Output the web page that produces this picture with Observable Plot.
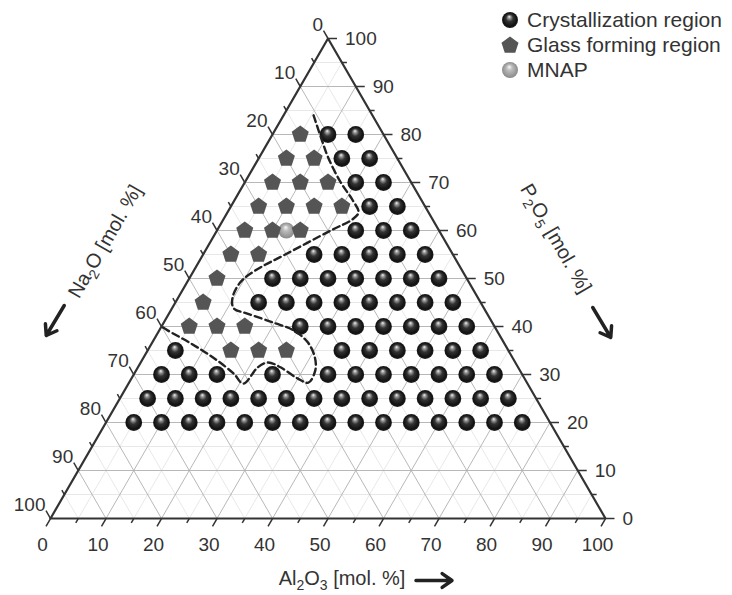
<!DOCTYPE html>
<html><head><meta charset="utf-8">
<script src="https://cdn.jsdelivr.net/npm/d3@7"></script>
<script src="https://cdn.jsdelivr.net/npm/@observablehq/plot@0.6"></script>
<style>
html,body{margin:0;padding:0;background:#fff;overflow:hidden;}
#wrap{position:relative;width:732px;height:595px;overflow:hidden;}
#legend{position:absolute;left:501px;top:7px;font-family:"Liberation Sans",Arial,sans-serif;font-size:21px;color:#333;white-space:nowrap;}
.item{display:flex;align-items:center;height:25px;}
.item svg{margin-right:8px;flex:none;}
</style></head><body>
<div id="wrap"><div id="chart"></div><div id="legend"></div></div>
<script>
// ---- data: [Al2O3, P2O5] in mol.% (Na2O = 100 - Al2O3 - P2O5)
const tickValues = [0, 10, 20, 30, 40, 50, 60, 70, 80, 90, 100];
const crystallization = [
  [10,80],[15,80],
  [15,75],[20,75],
  [20,70],[25,70],
  [25,65],[30,65],
  [25,60],[30,60],[35,60],
  [20,55],[25,55],[30,55],[35,55],[40,55],
  [15,50],[20,50],[25,50],[30,50],[35,50],[40,50],[45,50],
  [15,45],[20,45],[25,45],[30,45],[35,45],[40,45],[45,45],[50,45],
  [25,40],[30,40],[35,40],[40,40],[45,40],[50,40],[55,40],
  [5,35],[35,35],[40,35],[45,35],[50,35],[55,35],[60,35],
  [5,30],[10,30],[15,30],[25,30],[35,30],[40,30],[45,30],[50,30],[55,30],[60,30],[65,30],
  [5,25],[10,25],[15,25],[20,25],[25,25],[30,25],[35,25],[40,25],[45,25],[50,25],[55,25],[60,25],[65,25],[70,25],
  [5,20],[10,20],[15,20],[20,20],[25,20],[30,20],[35,20],[40,20],[45,20],[50,20],[55,20],[60,20],[65,20],[70,20],[75,20]
];
const glassForming = [
  [5,80],
  [5,75],[10,75],
  [5,70],[10,70],[15,70],
  [5,65],[10,65],[15,65],[20,65],
  [5,60],[10,60],[15,60],
  [5,55],[10,55],
  [5,50],
  [5,45],
  [5,40],[10,40],[15,40],
  [15,35],[20,35],[25,35]
];
const mnap = [[12.5,60]];
const boundary = [
  [5.4,84],[9.5,78.8],[12.6,75],[17.3,70],[21.3,66.3],[23.6,63.8],[23.3,62.4],[20.5,60],
  [14.8,55],[11.1,51.7],[9.6,49.2],[9.8,46.0],[11.1,43.8],[14.1,42.7],[19.8,40.8],[24.2,39.2],
  [28.0,36.7],[30.9,33.5],[32.3,30.8],[32.3,28.3],[29.9,29.2],[25.7,31.5],[22.9,32.5],[21.6,31.5],
  [20.7,28.1],[17.9,30.2],[12.6,33.5],[7.0,36.5],[1.5,39.2],[0,40]
];
const legendLabels = ["Crystallization region", "Glass forming region", "MNAP"];
const leftTitle = "Na2O [mol. %]";
const rightTitle = "P2O5 [mol. %]";
const bottomTitle = "Al2O3 [mol. %]";

// ---- geometry
const X0 = 50, X1 = 605, YT = 38, YB = 518;
const pxX = (X1 - X0) / 100, pxY = (YB - YT) / 100;
const tx = d => d[0] + d[1] / 2;
const ty = d => d[1];

const gridMajor = [], gridMinor = [];
for (const k of d3.range(5, 100, 5)) {
  const segs = [[[0, k], [100 - k, k]], [[k, 0], [k, 100 - k]], [[100 - k, 0], [0, 100 - k]]];
  for (const [a, b] of segs) (k % 10 === 0 ? gridMajor : gridMinor).push({x1: tx(a), y1: a[1], x2: tx(b), y2: b[1]});
}
const tickSegs = [];
for (const v of d3.range(0, 101, 5)) {
  const L = v % 10 === 0 ? 9 : 5;
  let a = [100 - v, v];
  tickSegs.push({x1: tx(a), y1: v, x2: tx(a) + L / pxX, y2: v});
  tickSegs.push({x1: v, y1: 0, x2: v - 0.5 * L / pxX, y2: -0.866 * L / pxY});
  a = [0, 100 - v];
  tickSegs.push({x1: tx(a), y1: a[1], x2: tx(a) - 0.5 * L / pxX, y2: a[1] + 0.866 * L / pxY});
}
const outline = [[0, 0], [100, 0], [0, 100], [0, 0]];

// axis-title arrows: pixel offsets from the middle of each edge
function arrowFrom(mid, sx, sy, ex, ey) {
  const mx = tx(mid), my = ty(mid);
  return {x1: mx + sx / pxX, y1: my - sy / pxY, x2: mx + ex / pxX, y2: my - ey / pxY};
}
const titleArrows = [
  arrowFrom([0, 50], -125, 27, -143, 57),
  arrowFrom([50, 50], 126, 29, 144, 59),
  arrowFrom([50, 0], 88, 62, 124, 62)
];

const pentagon = {
  draw(context, size) {
    const r = Math.sqrt(size / Math.PI) * 1.12;
    for (let i = 0; i < 5; i++) {
      const ang = -Math.PI / 2 + i * 2 * Math.PI / 5;
      const x = r * Math.cos(ang), y = r * Math.sin(ang);
      if (i) context.lineTo(x, y); else context.moveTo(x, y);
    }
    context.closePath();
  }
};

const one = [0];
const svg = Plot.plot({
  width: 732, height: 595, margin: 0,
  x: {domain: [0, 100], range: [X0, X1], axis: null},
  y: {domain: [0, 100], range: [YB, YT], axis: null},
  style: {fontFamily: '"Liberation Sans", Arial, sans-serif', fontSize: "19px", color: "#333", background: "transparent", overflow: "visible"},
  marks: [
    Plot.link(gridMinor, {x1: "x1", y1: "y1", x2: "x2", y2: "y2", stroke: "#e2e2e2", strokeWidth: 0.8}),
    Plot.link(gridMajor, {x1: "x1", y1: "y1", x2: "x2", y2: "y2", stroke: "#b0b0b0", strokeWidth: 0.9}),
    Plot.link(tickSegs, {x1: "x1", y1: "y1", x2: "x2", y2: "y2", stroke: "#333", strokeWidth: 1.5}),
    Plot.line(outline, {x: tx, y: ty, stroke: "#333", strokeWidth: 2.2, strokeLinejoin: "miter"}),
    // tick labels
    Plot.text(tickValues, {x: v => v, y: () => 0, text: String, dx: -8, dy: 26}),
    Plot.text(tickValues, {x: v => tx([100 - v, v]), y: v => v, text: String, textAnchor: "start", dx: 17, dy: 0}),
    Plot.text(tickValues, {x: v => tx([0, 100 - v]), y: v => 100 - v, text: String, textAnchor: "end", dx: -5, dy: -14}),
    // axis titles
    Plot.text(one, {x: () => tx([0, 50]), y: () => 50, text: () => leftTitle, rotate: -60, dx: -84, dy: -37, fontSize: 20}),
    Plot.text(one, {x: () => tx([50, 50]), y: () => 50, text: () => rightTitle, rotate: 60, dx: 89, dy: -40, fontSize: 20}),
    Plot.text(one, {x: () => 50, y: () => 0, text: () => bottomTitle, dx: 14, dy: 60, fontSize: 20}),
    Plot.arrow(titleArrows, {x1: "x1", y1: "y1", x2: "x2", y2: "y2", stroke: "#222", strokeWidth: 3.5, headLength: 13, headAngle: 70}),
    // points
    Plot.dot(mnap, {x: tx, y: ty, r: 8, fill: "url(#mnapGrad)"}),
    Plot.dot(glassForming, {x: tx, y: ty, r: 8, symbol: pentagon, fill: "#555"}),
    Plot.dot(crystallization, {x: tx, y: ty, r: 8.4, fill: "url(#sphereGrad)"}),
    Plot.line(boundary, {x: tx, y: ty, stroke: "#222", strokeWidth: 2.4, strokeDasharray: "7,4", curve: "catmull-rom"})
  ]
});

// gradients for shaded spheres
const defs = d3.select(svg).insert("defs", ":first-child");
function grad(id, stops) {
  const g = defs.append("radialGradient").attr("id", id).attr("cx", "50%").attr("cy", "50%").attr("r", "50%").attr("fx", "45%").attr("fy", "28%");
  for (const [o, c] of stops) g.append("stop").attr("offset", o).attr("stop-color", c);
}
grad("sphereGrad", [["0%", "#f4f4f4"], ["18%", "#9a9a9a"], ["45%", "#333"], ["85%", "#111"], ["100%", "#222"]]);
grad("mnapGrad", [["0%", "#fafafa"], ["35%", "#bdbdbd"], ["100%", "#8a8a8a"]]);

// subscripts in axis titles
const titles = [leftTitle, rightTitle, bottomTitle];
d3.select(svg).selectAll("text").each(function () {
  const s = this.textContent;
  if (!titles.includes(s)) return;
  this.textContent = "";
  let wasSub = false;
  for (const p of s.split(/(\d)/).filter(p => p !== "")) {
    const isSub = /^\d$/.test(p);
    const t = document.createElementNS("http://www.w3.org/2000/svg", "tspan");
    t.textContent = p;
    if (isSub) { t.setAttribute("font-size", "14"); if (!wasSub) t.setAttribute("dy", "5"); }
    else if (wasSub) t.setAttribute("dy", "-5");
    this.appendChild(t);
    wasSub = isSub;
  }
});
document.getElementById("chart").appendChild(svg);

// legend
const icons = [
  '<svg width="18" height="18"><defs><radialGradient id="lg1" cx="50%" cy="50%" r="50%" fx="45%" fy="28%"><stop offset="0%" stop-color="#f4f4f4"/><stop offset="18%" stop-color="#9a9a9a"/><stop offset="45%" stop-color="#333"/><stop offset="85%" stop-color="#111"/><stop offset="100%" stop-color="#222"/></radialGradient></defs><circle cx="9" cy="9" r="8" fill="url(#lg1)"/></svg>',
  '<svg width="18" height="18"><path transform="translate(9,9.5)" d="' + d3.symbol(pentagon, Math.PI * 64)() + '" fill="#555"/></svg>',
  '<svg width="18" height="18"><defs><radialGradient id="lg3" cx="50%" cy="50%" r="50%" fx="45%" fy="28%"><stop offset="0%" stop-color="#fafafa"/><stop offset="35%" stop-color="#bdbdbd"/><stop offset="100%" stop-color="#8a8a8a"/></radialGradient></defs><circle cx="9" cy="9" r="8" fill="url(#lg3)"/></svg>'
];
const legend = d3.select("#legend");
legendLabels.forEach((lab, i) => {
  const item = legend.append("div").attr("class", "item");
  item.html(icons[i]);
  item.append("span").text(lab);
});
</script>
</body></html>
